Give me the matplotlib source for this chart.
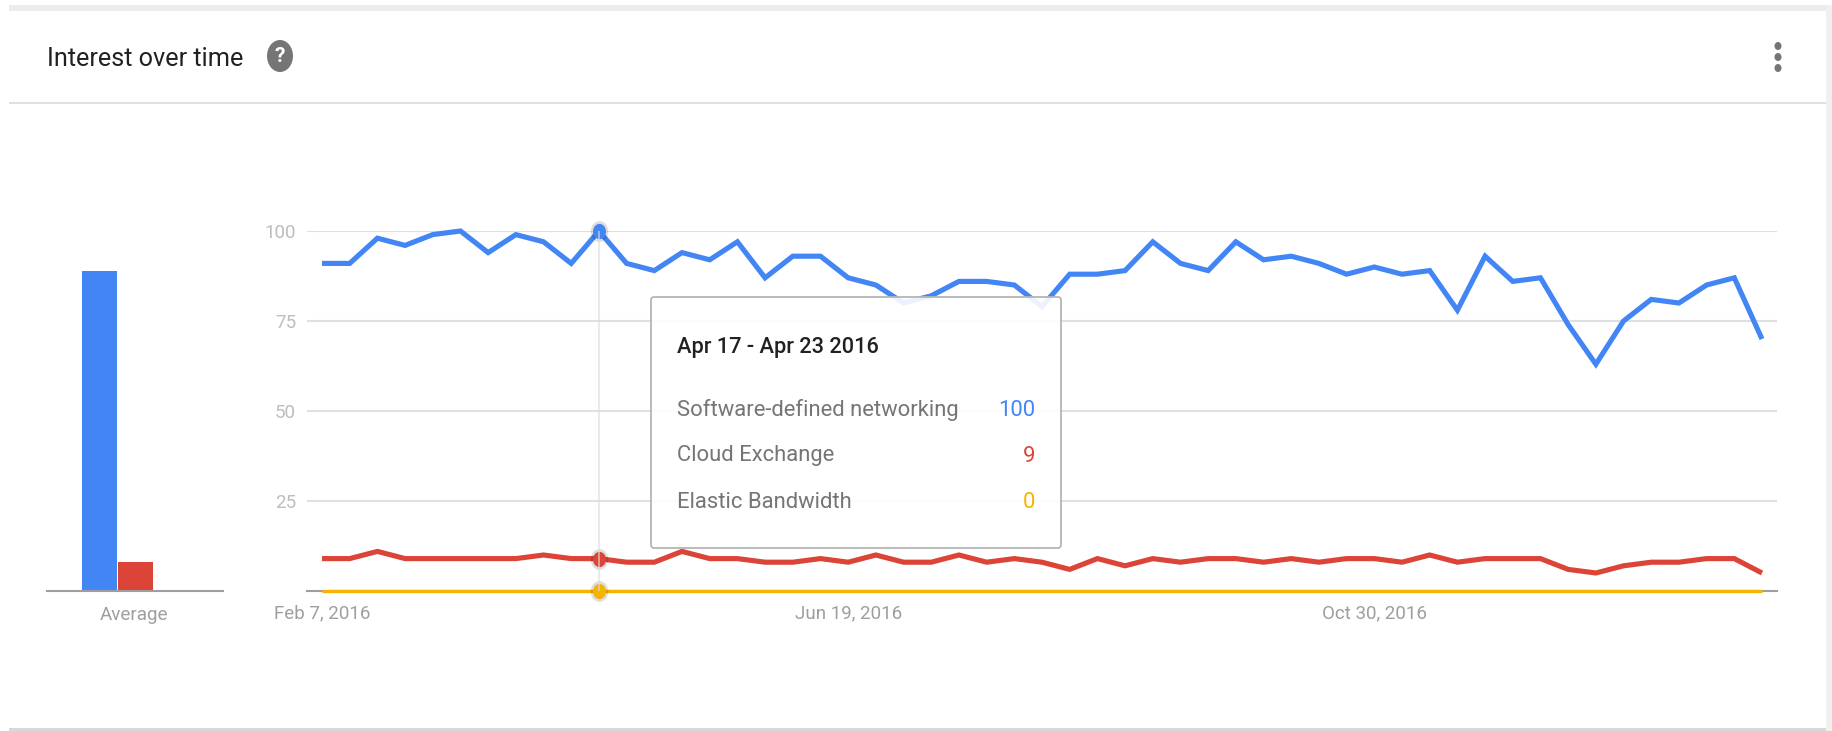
import matplotlib
matplotlib.use("Agg")
import matplotlib.pyplot as plt
from matplotlib.markers import MarkerStyle
from matplotlib.patches import Ellipse, FancyBboxPatch, Rectangle
from matplotlib.transforms import Affine2D

plt.rcParams["font.family"] = ["Roboto", "DejaVu Sans"]

W, H = 1832, 731

software_defined = [91, 91, 98, 96, 99, 100, 94, 99, 97, 91, 100, 91, 89, 94, 92, 97, 87, 93,
                    93, 87, 85, 80, 82, 86, 86, 85, 79, 88, 88, 89, 97, 91, 89, 97, 92, 93,
                    91, 88, 90, 88, 89, 78, 93, 86, 87, 74, 63, 75, 81, 80, 85, 87, 70]
cloud_exchange = [9, 9, 11, 9, 9, 9, 9, 9, 10, 9, 9, 8, 8, 11, 9, 9, 8, 8,
                  9, 8, 10, 8, 8, 10, 8, 9, 8, 6, 9, 7, 9, 8, 9, 9, 8, 9,
                  8, 9, 9, 8, 10, 8, 9, 9, 9, 6, 5, 7, 8, 8, 9, 9, 5]
elastic_bandwidth = [0] * 53
averages = [89, 8]
y_ticks = [25, 50, 75, 100]
x_tick_pos = [0, 19, 38]
x_tick_labels = ["Feb 7, 2016", "Jun 19, 2016", "Oct 30, 2016"]
series_names = ["Software-defined networking", "Cloud Exchange", "Elastic Bandwidth"]
hover_index = 10
hover_label = "Apr 17 - Apr 23 2016"

BLUE = "#4285f4"
RED = "#db4437"
YELLOW = "#f4b400"
GRID = "#e0e0e0"


def px_axes(left, top, right, bottom, **kw):
    return fig.add_axes([left / W, 1 - bottom / H, (right - left) / W, (bottom - top) / H], **kw)


fig = plt.figure(figsize=(W / 100, H / 100), dpi=100, facecolor="white")

# page background and card edges
bg = px_axes(0, 0, W, H, zorder=0)
bg.set_xlim(0, W)
bg.set_ylim(H, 0)
bg.axis("off")
bg.add_patch(Rectangle((9, 5), W - 9, 6, color="#ececec", lw=0))
bg.add_patch(Rectangle((1826, 5), 6, H - 5, color="#f0f0f0", lw=0))
bg.add_patch(Rectangle((9, 728), 1817, 3, color="#d8d8d8", lw=0))
bg.add_patch(Rectangle((9, 102), 1817, 2, color="#e0e0e0", lw=0))

bg.text(47, 59, "Interest over time", fontsize=18.2, color="#212121", va="center", ha="left")
bg.add_patch(Ellipse((280, 56), 26, 32, color="#757575", lw=0))
bg.text(280, 56, "?", fontsize=15, fontweight="bold", color="white", va="center", ha="center")
for y in [46, 57, 68]:
    bg.add_patch(Ellipse((1778, y), 7, 8, color="#757575", lw=0))

# average bars
ax_avg = px_axes(47, 271, 223, 591, zorder=1)
ax_avg.set_xlim(47, 223)
ax_avg.set_ylim(0, averages[0])
ax_avg.bar([99.5, 135.5], averages, width=35, color=[BLUE, RED])
ax_avg.patch.set_visible(False)
for s in ["top", "left", "right"]:
    ax_avg.spines[s].set_visible(False)
ax_avg.spines["bottom"].set_color("#9e9e9e")
ax_avg.spines["bottom"].set_linewidth(1.5)
ax_avg.set_yticks([])
ax_avg.set_xticks([134])
ax_avg.set_xticklabels(["Average"], fontsize=13.6, color="#9e9e9e")
ax_avg.tick_params(axis="x", length=0, pad=10.5)

# main line chart
step = (1762 - 322) / 52
ax = px_axes(307, 231, 1777, 591, zorder=2)
ax.set_xlim(-15 / step, 52 + 15 / step)
ax.set_ylim(0, 100)
ax.patch.set_visible(False)
for s in ["top", "left", "right"]:
    ax.spines[s].set_visible(False)
ax.spines["bottom"].set_color("#9e9e9e")
ax.spines["bottom"].set_linewidth(1.5)
ax.set_yticks(y_ticks)
ax.set_yticklabels([str(t) for t in y_ticks], fontsize=13.5, color="#bdbdbd")
ax.set_xticks(x_tick_pos)
ax.set_xticklabels(x_tick_labels, fontsize=13.5, color="#9e9e9e")
ax.tick_params(axis="y", length=0, pad=8)
ax.tick_params(axis="x", length=0, pad=9.5)
ax.grid(axis="y", color=GRID, lw=1.5)
ax.set_axisbelow(True)

x = list(range(len(software_defined)))
for vals, col, width in [(elastic_bandwidth, YELLOW, 2.4), (cloud_exchange, RED, 3.7), (software_defined, BLUE, 3.7)]:
    ax.plot(x, vals, color=col, lw=width, solid_joinstyle="miter", solid_capstyle="butt", clip_on=False, zorder=3)

# hover guide and dots
ax.axvline(hover_index, color="#dcdcdc", lw=1.2, alpha=0.7, zorder=5)
squashed = MarkerStyle("o", transform=Affine2D().scale(0.85, 1))
for vals, col in [(software_defined, BLUE), (cloud_exchange, RED), (elastic_bandwidth, YELLOW)]:
    ax.plot(hover_index, vals[hover_index], marker=squashed, ms=15, color="black", alpha=0.13, mew=0,
            clip_on=False, zorder=4)
    ax.plot(hover_index, vals[hover_index], marker=squashed, ms=11, color=col, mew=0,
            clip_on=False, zorder=4)

# tooltip
top = px_axes(0, 0, W, H, zorder=3)
top.set_xlim(0, W)
top.set_ylim(H, 0)
top.axis("off")
top.add_patch(FancyBboxPatch((651, 297), 410, 251, boxstyle="round,pad=0,rounding_size=3",
                             facecolor=(1, 1, 1, 0.9), edgecolor="#b5b5b5", lw=1.3))
top.text(677, 347, hover_label, fontsize=15.7, fontweight="medium", color="#212121", va="center")
row_ys = [410, 456, 503]
row_values = [software_defined[hover_index], cloud_exchange[hover_index], elastic_bandwidth[hover_index]]
for name, val, col, y in zip(series_names, row_values, [BLUE, RED, YELLOW], row_ys):
    top.text(677, y, name, fontsize=15.8, color="#757575", va="center")
    top.text(1035, y, str(val), fontsize=15.8, color=col, va="center", ha="right")

fig.savefig("out.png", dpi=100)
